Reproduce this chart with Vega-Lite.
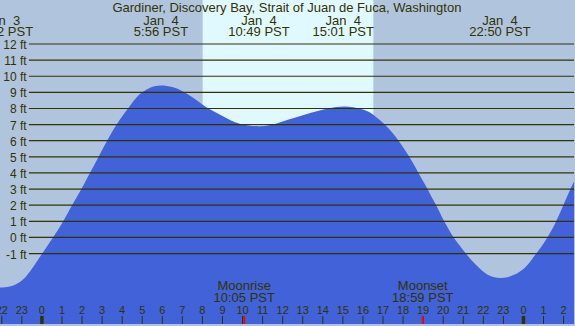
{
  "$schema": "https://vega.github.io/schema/vega-lite/v6.json",
  "width": 575,
  "height": 326,
  "autosize": {"type": "fit", "contains": "padding"},
  "padding": 0,
  "background": "#b0c4de",
  "config": {
    "view": {"stroke": null, "fill": "#b0c4de"},
    "text": {"font": "Liberation Sans", "fontSize": 13, "color": "#333300"}
  },
  "datasets": {
    "tide": [
      {"h": -2.1, "ft": -3.1}, {"h": -1.95, "ft": -3.11}, {"h": -1.5, "ft": -3.02}, {"h": -1.18, "ft": -2.83},
      {"h": -0.85, "ft": -2.5}, {"h": -0.5, "ft": -1.95}, {"h": 0.0, "ft": -1.02}, {"h": 0.5, "ft": -0.1},
      {"h": 1.06, "ft": 1.0}, {"h": 1.48, "ft": 1.95}, {"h": 1.97, "ft": 3.0}, {"h": 2.35, "ft": 3.9},
      {"h": 2.8, "ft": 4.95}, {"h": 3.25, "ft": 6.0}, {"h": 3.72, "ft": 7.0}, {"h": 4.29, "ft": 8.0},
      {"h": 4.84, "ft": 8.85}, {"h": 5.24, "ft": 9.2}, {"h": 5.6, "ft": 9.38}, {"h": 5.95, "ft": 9.43},
      {"h": 6.5, "ft": 9.33}, {"h": 7.03, "ft": 9.06}, {"h": 7.5, "ft": 8.7}, {"h": 8.03, "ft": 8.22},
      {"h": 8.28, "ft": 8.02}, {"h": 8.6, "ft": 7.8}, {"h": 9.02, "ft": 7.52}, {"h": 9.4, "ft": 7.27},
      {"h": 9.85, "ft": 7.05}, {"h": 10.3, "ft": 6.94}, {"h": 10.8, "ft": 6.9}, {"h": 11.4, "ft": 6.98},
      {"h": 12.0, "ft": 7.2}, {"h": 12.6, "ft": 7.43}, {"h": 13.17, "ft": 7.64}, {"h": 13.75, "ft": 7.84},
      {"h": 14.33, "ft": 8.01}, {"h": 14.7, "ft": 8.09}, {"h": 15.07, "ft": 8.12}, {"h": 15.5, "ft": 8.08},
      {"h": 16.0, "ft": 7.93}, {"h": 16.5, "ft": 7.62}, {"h": 16.65, "ft": 7.47}, {"h": 17.11, "ft": 6.98},
      {"h": 17.5, "ft": 6.45}, {"h": 17.78, "ft": 6.0}, {"h": 18.0, "ft": 5.6}, {"h": 18.31, "ft": 5.0},
      {"h": 18.5, "ft": 4.6}, {"h": 18.77, "ft": 4.0}, {"h": 19.0, "ft": 3.48}, {"h": 19.22, "ft": 3.0},
      {"h": 19.45, "ft": 2.45}, {"h": 19.65, "ft": 2.0}, {"h": 20.05, "ft": 1.0}, {"h": 20.3, "ft": 0.45},
      {"h": 20.55, "ft": -0.05}, {"h": 20.85, "ft": -0.55}, {"h": 21.13, "ft": -1.0}, {"h": 21.63, "ft": -1.7},
      {"h": 22.2, "ft": -2.3}, {"h": 22.5, "ft": -2.46}, {"h": 22.87, "ft": -2.52}, {"h": 23.2, "ft": -2.47},
      {"h": 23.53, "ft": -2.32}, {"h": 23.9, "ft": -2.05}, {"h": 24.19, "ft": -1.72}, {"h": 24.61, "ft": -1.05},
      {"h": 25.19, "ft": 0.0}, {"h": 25.61, "ft": 0.95}, {"h": 25.97, "ft": 1.95}, {"h": 26.32, "ft": 2.95},
      {"h": 26.55, "ft": 3.55}
    ],
    "levels": [
      {"ft": -1, "label": "-1 ft"}, {"ft": 0, "label": "0 ft"}, {"ft": 1, "label": "1 ft"}, {"ft": 2, "label": "2 ft"},
      {"ft": 3, "label": "3 ft"}, {"ft": 4, "label": "4 ft"}, {"ft": 5, "label": "5 ft"}, {"ft": 6, "label": "6 ft"},
      {"ft": 7, "label": "7 ft"}, {"ft": 8, "label": "8 ft"}, {"ft": 9, "label": "9 ft"}, {"ft": 10, "label": "10 ft"},
      {"ft": 11, "label": "11 ft"}, {"ft": 12, "label": "12 ft"}
    ],
    "extremes": [
      {"h": -1.97, "day": "Jan \u00a03", "time": "22:02 PST"},
      {"h": 5.933, "day": "Jan \u00a04", "time": "5:56 PST"},
      {"h": 10.817, "day": "Jan \u00a04", "time": "10:49 PST"},
      {"h": 15.017, "day": "Jan \u00a04", "time": "15:01 PST"},
      {"h": 22.833, "day": "Jan \u00a04", "time": "22:50 PST"}
    ],
    "hours": [
      {"h": -2, "label": "22"}, {"h": -1, "label": "23"}, {"h": 0, "label": "0"}, {"h": 1, "label": "1"},
      {"h": 2, "label": "2"}, {"h": 3, "label": "3"}, {"h": 4, "label": "4"}, {"h": 5, "label": "5"},
      {"h": 6, "label": "6"}, {"h": 7, "label": "7"}, {"h": 8, "label": "8"}, {"h": 9, "label": "9"},
      {"h": 10, "label": "10"}, {"h": 11, "label": "11"}, {"h": 12, "label": "12"}, {"h": 13, "label": "13"},
      {"h": 14, "label": "14"}, {"h": 15, "label": "15"}, {"h": 16, "label": "16"}, {"h": 17, "label": "17"},
      {"h": 18, "label": "18"}, {"h": 19, "label": "19"}, {"h": 20, "label": "20"}, {"h": 21, "label": "21"},
      {"h": 22, "label": "22"}, {"h": 23, "label": "23"}, {"h": 24, "label": "0"}, {"h": 25, "label": "1"},
      {"h": 26, "label": "2"}
    ],
    "moon": [
      {"h": 10.083, "event": "Moonrise", "time": "10:05 PST"},
      {"h": 18.983, "event": "Moonset", "time": "18:59 PST"}
    ],
    "daylight": [{"start": 8.01, "end": 16.52}],
    "station": [{"h": 12.21, "name": "Gardiner, Discovery Bay, Strait of Juan de Fuca, Washington"}]
  },
  "layer": [
    {
      "data": {"name": "daylight"},
      "mark": {"type": "rect", "fill": "#e0f8ff"},
      "encoding": {
        "x": {"field": "start", "type": "quantitative", "scale": {"domain": [-2.09, 26.52], "nice": false, "zero": false}, "axis": null},
        "x2": {"field": "end"}
      }
    },
    {
      "data": {"name": "tide"},
      "mark": {"type": "area", "color": "#4162d8", "interpolate": "monotone", "clip": true},
      "encoding": {
        "x": {"field": "h", "type": "quantitative", "scale": {"domain": [-2.09, 26.52], "nice": false, "zero": false}, "axis": null},
        "y": {"field": "ft", "type": "quantitative", "scale": {"domain": [-5.37, 14.73], "nice": false, "zero": false}, "axis": null},
        "y2": {"datum": -5.37}
      }
    },
    {
      "data": {"name": "levels"},
      "mark": {"type": "rule", "color": "#333300", "strokeWidth": 1.2},
      "encoding": {
        "x": {"datum": -0.65, "type": "quantitative"},
        "x2": {"datum": 26.52},
        "y": {"field": "ft", "type": "quantitative"}
      }
    },
    {
      "data": {"name": "levels"},
      "mark": {"type": "text", "align": "right", "baseline": "middle", "fontSize": 12, "dy": 1},
      "encoding": {
        "x": {"datum": -0.76, "type": "quantitative"},
        "y": {"field": "ft", "type": "quantitative"},
        "text": {"field": "label"}
      }
    },
    {
      "data": {"name": "station"},
      "mark": {"type": "text", "align": "center", "baseline": "alphabetic"},
      "encoding": {
        "x": {"field": "h", "type": "quantitative"},
        "y": {"datum": 14.01, "type": "quantitative"},
        "text": {"field": "name"}
      }
    },
    {
      "data": {"name": "extremes"},
      "mark": {"type": "text", "align": "center", "baseline": "alphabetic", "clip": true},
      "encoding": {
        "x": {"field": "h", "type": "quantitative"},
        "y": {"datum": 13.19, "type": "quantitative"},
        "text": {"field": "day"}
      }
    },
    {
      "data": {"name": "extremes"},
      "mark": {"type": "text", "align": "center", "baseline": "alphabetic", "clip": true},
      "encoding": {
        "x": {"field": "h", "type": "quantitative"},
        "y": {"datum": 12.5, "type": "quantitative"},
        "text": {"field": "time"}
      }
    },
    {
      "data": {"name": "hours"},
      "transform": [{"filter": "datum.h % 24 != 0"}],
      "mark": {"type": "rule", "color": "#333300", "strokeWidth": 1},
      "encoding": {
        "x": {"field": "h", "type": "quantitative"},
        "y": {"datum": -5.37, "type": "quantitative"},
        "y2": {"datum": -4.87}
      }
    },
    {
      "data": {"name": "hours"},
      "transform": [{"filter": "datum.h % 24 == 0"}],
      "mark": {"type": "rule", "color": "#333300", "strokeWidth": 3.5},
      "encoding": {
        "x": {"field": "h", "type": "quantitative"},
        "y": {"datum": -5.37, "type": "quantitative"},
        "y2": {"datum": -4.87}
      }
    },
    {
      "data": {"name": "hours"},
      "mark": {"type": "text", "align": "center", "baseline": "alphabetic", "fontSize": 11, "clip": true},
      "encoding": {
        "x": {"field": "h", "type": "quantitative"},
        "y": {"datum": -4.77, "type": "quantitative"},
        "text": {"field": "label"}
      }
    },
    {
      "data": {"name": "moon"},
      "mark": {"type": "rule", "color": "#ff0000", "strokeWidth": 2},
      "encoding": {
        "x": {"field": "h", "type": "quantitative"},
        "y": {"datum": -5.37, "type": "quantitative"},
        "y2": {"datum": -4.87}
      }
    },
    {
      "data": {"name": "moon"},
      "mark": {"type": "text", "align": "center", "baseline": "alphabetic"},
      "encoding": {
        "x": {"field": "h", "type": "quantitative"},
        "y": {"datum": -3.25, "type": "quantitative"},
        "text": {"field": "event"}
      }
    },
    {
      "data": {"name": "moon"},
      "mark": {"type": "text", "align": "center", "baseline": "alphabetic"},
      "encoding": {
        "x": {"field": "h", "type": "quantitative"},
        "y": {"datum": -3.98, "type": "quantitative"},
        "text": {"field": "time"}
      }
    }
  ]
}
